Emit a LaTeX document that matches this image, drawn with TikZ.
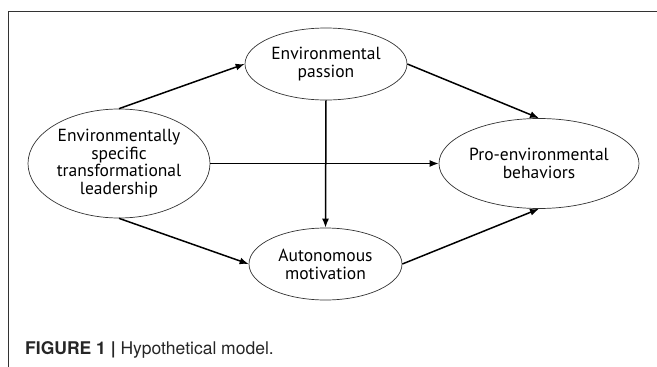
\documentclass[tikz,border=0pt]{standalone}
\usepackage{fontspec}
\setmainfont{PT Sans}
\newfontfamily\captionfont{TeX Gyre Heros}
\usetikzlibrary{arrows.meta,shapes,positioning}
\tikzset{
	every node/.style={
		font=\fontsize{17.5}{17.8}\selectfont
	},
	latent/.style={
		shape=ellipse,
		draw=black!80,
		line width=0.7pt,
		align=center,
		inner sep=0pt,
	},
	myarrow/.style={-{Latex[length=9pt,width=7pt]}, line width=1.5pt},
	myframe/.style={draw=black!80, line width=1pt},
}

\begin{document}
\begin{tikzpicture}[x=1pt,y=-1pt,on grid]
	\useasboundingbox (0,0) rectangle (657,367);
	
	% Marco
	\draw[myframe] (657,11) -- (8,11) -- (8,367);
	
	% Variables
	\node[latent, minimum width=182pt, minimum height=109pt] (L) at (119,163.5) {Environmentally\\specific\\transformational\\leadership};
	\node[latent, minimum width=162pt, minimum height=72pt] (P) [above right=99.5pt and 207pt of L] {Environmental\\passion};
	\node[latent, minimum width=153pt, minimum height=72pt] (A) [below right=100.5pt and 206.5pt of L] {Autonomous\\motivation};
	\node[latent, minimum width=200pt, minimum height=90pt] (B) [right=420pt of L] {Pro-environmental\\behaviors};
	
	% Relaciones
	\draw[myarrow] (L.north) -- (P.west);
	\draw[myarrow] (L.south) -- (A.west);
	\draw[myarrow] (L.east) -- (B.west);
	\draw[myarrow] (P.south) -- (A.north);
	\draw[myarrow] (P.east) -- (B.north);
	\draw[myarrow] (A.east) -- (B.south);
	
	% Pie de figura
	\node[anchor=base west, inner sep=0pt, font=\captionfont\fontsize{17.5}{20}\selectfont, text=black!85] (cap) at (25,354) {\textbf{FIGURE 1 |} Hypothetical model.};
	
\end{tikzpicture}
\end{document}
